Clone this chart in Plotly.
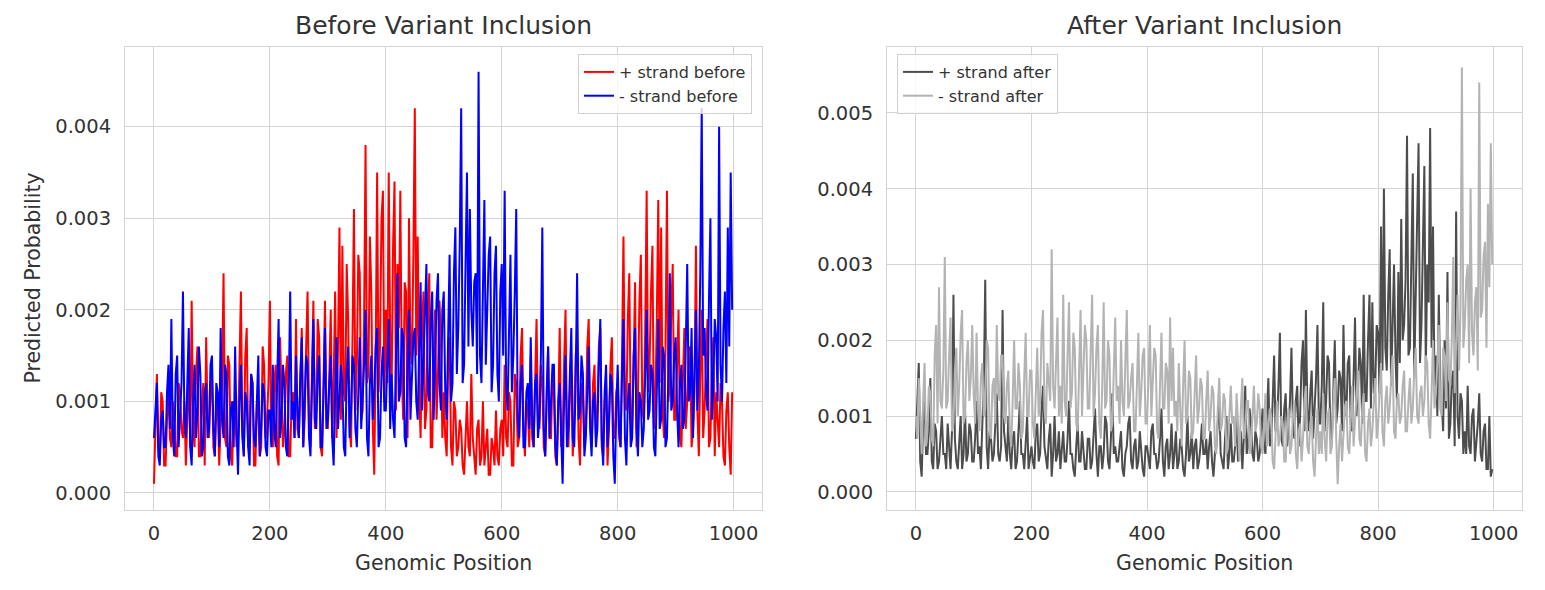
import plotly.graph_objects as go

# Genomic positions (sampled every 2.5 bp)
positions = [i * 2.5 for i in range(400)]

# Values in units of 1e-4 (predicted probability)
plus_before_e4 = [
    1, 9, 13, 5, 4, 11, 10, 3, 3, 8, 12, 6, 5, 10, 8, 4, 4, 12, 11, 7,
    6, 10, 3, 8, 14, 5, 21, 7, 5, 13, 16, 4, 4, 9, 12, 3, 17, 8, 6, 11,
    13, 5, 4, 9, 11, 3, 7, 12, 24, 6, 5, 15, 14, 4, 3, 10, 9, 5, 6, 14,
    22, 7, 4, 15, 18, 5, 6, 13, 12, 3, 3, 10, 9, 4, 5, 16, 14, 6, 8, 12,
    21, 6, 5, 12, 14, 4, 3, 17, 12, 5, 7, 13, 15, 4, 4, 10, 11, 6, 19, 7,
    6, 14, 18, 5, 8, 16, 22, 9, 5, 13, 21, 7, 9, 19, 17, 5, 4, 12, 21, 8,
    7, 13, 20, 6, 12, 22, 6, 16, 29, 8, 27, 11, 10, 25, 19, 7, 5, 17, 31, 9,
    14, 26, 24, 8, 9, 19, 38, 12, 13, 28, 22, 7, 2, 15, 35, 11, 16, 30, 33, 10,
    20, 12, 35, 17, 11, 27, 34, 9, 25, 18, 33, 13, 8, 23, 22, 6, 30, 16, 14, 26,
    42, 15, 28, 11, 6, 18, 22, 7, 9, 20, 24, 5, 5, 14, 20, 8, 13, 21, 17, 6,
    11, 6, 4, 14, 17, 5, 3, 10, 9, 4, 5, 8, 7, 3, 2, 6, 10, 5, 4, 13,
    6, 4, 2, 7, 8, 3, 4, 10, 3, 5, 7, 2, 2, 6, 5, 3, 9, 4, 3, 7,
    8, 4, 14, 6, 5, 11, 10, 3, 3, 13, 12, 5, 6, 15, 18, 7, 4, 10, 9, 5,
    15, 6, 5, 12, 19, 8, 7, 14, 12, 5, 4, 10, 16, 6, 6, 13, 11, 4, 3, 9,
    18, 5, 6, 14, 20, 7, 5, 11, 13, 4, 8, 15, 17, 6, 3, 12, 11, 5, 7, 16,
    19, 8, 5, 12, 14, 6, 9, 16, 18, 5, 4, 10, 12, 3, 7, 14, 17, 6, 6, 11,
    12, 6, 5, 15, 28, 10, 9, 19, 24, 8, 7, 14, 23, 5, 11, 21, 26, 9, 8, 18,
    33, 11, 14, 22, 27, 7, 10, 19, 32, 12, 29, 9, 6, 16, 33, 10, 12, 20, 25, 8,
    8, 14, 20, 6, 5, 12, 18, 7, 10, 15, 16, 5, 7, 11, 27, 9, 4, 13, 20, 6,
    9, 15, 19, 5, 6, 13, 17, 4, 11, 8, 5, 12, 10, 4, 3, 9, 11, 5, 2, 11,
]
minus_before_e4 = [
    6, 10, 12, 4, 3, 8, 9, 5, 5, 11, 14, 7, 19, 6, 4, 13, 15, 5, 8, 12,
    22, 8, 6, 13, 18, 5, 3, 10, 14, 6, 9, 16, 13, 4, 5, 11, 12, 6, 7, 14,
    15, 7, 4, 12, 11, 5, 18, 8, 6, 14, 13, 4, 3, 9, 10, 5, 16, 7, 2, 10,
    14, 6, 4, 11, 10, 5, 3, 13, 12, 6, 5, 10, 15, 4, 7, 12, 11, 5, 4, 9,
    9, 5, 14, 7, 5, 12, 19, 6, 8, 14, 12, 5, 4, 11, 22, 8, 10, 6, 15, 9,
    6, 13, 17, 5, 9, 15, 14, 6, 4, 12, 19, 8, 7, 13, 15, 5, 5, 11, 18, 7,
    8, 12, 15, 6, 3, 11, 17, 7, 10, 14, 12, 5, 4, 13, 16, 6, 9, 15, 14, 7,
    5, 12, 17, 7, 10, 14, 20, 6, 4, 12, 15, 8, 11, 16, 18, 5, 6, 13, 16, 9,
    9, 14, 19, 7, 13, 8, 6, 15, 24, 10, 11, 18, 17, 6, 5, 14, 20, 8, 12, 17,
    18, 10, 8, 17, 23, 9, 14, 20, 25, 11, 10, 19, 22, 8, 16, 21, 24, 12, 9, 20,
    22, 11, 8, 19, 26, 10, 12, 24, 29, 13, 18, 27, 42, 12, 14, 25, 35, 16, 31, 20,
    16, 23, 24, 13, 46, 15, 12, 22, 32, 14, 20, 26, 28, 11, 14, 24, 27, 13, 10, 22,
    25, 15, 33, 12, 9, 20, 26, 11, 15, 22, 31, 8, 6, 12, 14, 5, 5, 11, 12, 7,
    17, 8, 5, 12, 13, 6, 8, 15, 29, 7, 4, 11, 16, 6, 10, 14, 14, 5, 3, 10,
    12, 6, 1, 10, 15, 5, 7, 13, 18, 6, 5, 12, 24, 8, 9, 15, 13, 4, 6, 11,
    16, 7, 4, 10, 11, 5, 7, 14, 19, 6, 3, 11, 14, 5, 8, 13, 12, 4, 1, 9,
    14, 7, 5, 13, 19, 6, 3, 10, 12, 5, 6, 15, 18, 7, 4, 11, 10, 5, 7, 13,
    20, 8, 9, 14, 13, 5, 4, 11, 19, 7, 8, 16, 15, 5, 6, 13, 24, 9, 10, 15,
    17, 9, 5, 12, 14, 7, 8, 16, 25, 10, 11, 18, 6, 13, 20, 9, 13, 24, 42, 15,
    18, 11, 9, 21, 30, 8, 12, 19, 17, 10, 40, 14, 10, 18, 22, 12, 29, 16, 35, 20,
]
plus_after_e4 = [
    7, 11, 17, 4, 2, 9, 12, 5, 5, 8, 15, 4, 3, 9, 8, 3, 4, 7, 10, 5,
    5, 3, 9, 6, 3, 8, 26, 7, 4, 3, 7, 10, 3, 5, 11, 4, 5, 9, 8, 4,
    4, 7, 12, 5, 6, 3, 9, 14, 28, 6, 3, 8, 7, 4, 5, 10, 13, 5, 4, 6,
    24, 8, 6, 4, 10, 5, 3, 7, 8, 3, 4, 9, 12, 5, 5, 3, 7, 10, 3, 5,
    6, 4, 3, 8, 9, 4, 5, 11, 14, 6, 4, 3, 7, 9, 2, 5, 10, 4, 5, 8,
    3, 6, 8, 4, 4, 7, 12, 5, 5, 3, 2, 6, 9, 4, 4, 8, 6, 3, 3, 7,
    7, 3, 4, 8, 11, 5, 2, 6, 6, 3, 5, 10, 9, 4, 3, 7, 13, 5, 6, 4,
    4, 6, 8, 3, 2, 5, 6, 9, 10, 4, 3, 6, 7, 3, 4, 8, 5, 3, 2, 6,
    6, 4, 3, 8, 9, 5, 5, 3, 4, 7, 11, 4, 2, 6, 7, 3, 5, 9, 3, 5,
    8, 3, 4, 7, 6, 3, 2, 5, 10, 4, 5, 8, 3, 6, 7, 3, 4, 6, 9, 5,
    5, 7, 3, 6, 8, 4, 2, 5, 6, 9, 12, 5, 4, 3, 7, 10, 3, 5, 9, 4,
    4, 6, 10, 4, 5, 8, 3, 7, 14, 5, 6, 11, 9, 5, 4, 8, 7, 4, 5, 9,
    11, 6, 5, 10, 15, 6, 7, 12, 18, 8, 9, 14, 21, 7, 6, 11, 13, 6, 8, 12,
    19, 9, 7, 12, 14, 6, 10, 17, 20, 8, 24, 11, 8, 13, 16, 7, 11, 15, 22, 9,
    9, 14, 25, 8, 12, 18, 17, 7, 7, 13, 20, 9, 11, 16, 15, 8, 22, 12, 10, 17,
    18, 9, 8, 15, 23, 10, 13, 19, 17, 9, 26, 12, 12, 20, 26, 11, 25, 13, 14, 22,
    21, 13, 35, 16, 40, 19, 16, 26, 32, 14, 24, 30, 18, 12, 29, 17, 36, 20, 22, 28,
    47, 18, 19, 31, 42, 15, 28, 36, 46, 17, 22, 34, 43, 16, 30, 25, 48, 19, 35, 14,
    18, 10, 26, 13, 12, 8, 20, 11, 29, 7, 9, 15, 16, 6, 37, 10, 7, 13, 12, 5,
    8, 5, 14, 6, 5, 10, 11, 4, 6, 9, 13, 5, 4, 8, 9, 3, 3, 10, 2, 3,
]
minus_after_e4 = [
    10, 7, 15, 9, 5, 12, 17, 6, 8, 14, 13, 7, 6, 18, 22, 9, 27, 12, 11, 16,
    31, 11, 12, 18, 23, 8, 9, 16, 19, 10, 14, 21, 24, 9, 10, 17, 20, 12, 15, 22,
    13, 9, 21, 11, 8, 15, 17, 10, 11, 20, 19, 8, 7, 14, 15, 9, 22, 13, 12, 18,
    18, 10, 9, 14, 16, 8, 6, 12, 20, 11, 11, 17, 14, 7, 8, 15, 21, 10, 10, 16,
    16, 9, 7, 13, 19, 10, 12, 21, 24, 11, 9, 17, 15, 12, 32, 14, 11, 18, 23, 10,
    14, 9, 26, 12, 10, 18, 25, 11, 13, 21, 19, 9, 8, 16, 24, 10, 15, 22, 20, 11,
    11, 17, 26, 10, 13, 19, 22, 9, 7, 14, 25, 11, 12, 20, 18, 8, 9, 16, 23, 12,
    14, 9, 20, 12, 10, 17, 24, 11, 12, 15, 17, 8, 8, 14, 21, 10, 13, 18, 19, 9,
    9, 15, 22, 10, 14, 19, 18, 8, 7, 13, 21, 11, 11, 17, 16, 9, 23, 12, 19, 10,
    12, 8, 17, 11, 6, 14, 20, 9, 10, 16, 15, 7, 8, 13, 18, 9, 11, 15, 14, 7,
    7, 12, 16, 8, 10, 14, 13, 6, 5, 11, 15, 8, 9, 13, 12, 5, 6, 10, 14, 9,
    10, 6, 13, 9, 4, 11, 15, 7, 8, 12, 12, 5, 6, 10, 14, 8, 9, 13, 11, 6,
    5, 9, 13, 6, 8, 11, 10, 4, 3, 8, 12, 6, 7, 10, 9, 4, 4, 9, 11, 5,
    6, 10, 12, 5, 3, 8, 9, 4, 7, 12, 14, 6, 5, 9, 10, 4, 2, 7, 11, 5,
    8, 5, 13, 7, 4, 10, 11, 5, 6, 12, 15, 7, 1, 6, 9, 4, 7, 11, 12, 6,
    5, 10, 14, 6, 9, 13, 16, 7, 6, 11, 13, 5, 4, 9, 11, 6, 8, 12, 15, 7,
    9, 13, 17, 8, 6, 12, 14, 9, 11, 15, 18, 8, 7, 12, 13, 9, 10, 14, 16, 8,
    8, 12, 15, 9, 11, 16, 19, 10, 9, 13, 14, 10, 12, 18, 17, 9, 7, 13, 20, 11,
    13, 17, 22, 11, 10, 19, 18, 12, 25, 15, 14, 20, 31, 13, 20, 26, 16, 24, 56, 19,
    22, 28, 30, 17, 40, 21, 18, 25, 27, 16, 54, 23, 24, 31, 33, 19, 38, 27, 46, 30,
]

def to_prob(vals):
    return [v * 1e-4 for v in vals]

W, H = 1545, 590
FONT = "DejaVu Sans"
TXT = "#333333"
GRID = "#d4d4d4"
LW = 2.0

fig = go.Figure()
fig.add_trace(go.Scatter(x=positions, y=to_prob(plus_before_e4), mode="lines",
                         name="+ strand before", line=dict(color="#ff0000", width=LW),
                         xaxis="x", yaxis="y", legend="legend"))
fig.add_trace(go.Scatter(x=positions, y=to_prob(minus_before_e4), mode="lines",
                         name="- strand before", line=dict(color="#0000ff", width=LW),
                         xaxis="x", yaxis="y", legend="legend"))
fig.add_trace(go.Scatter(x=positions, y=to_prob(plus_after_e4), mode="lines",
                         name="+ strand after", line=dict(color="#4d4d4d", width=LW),
                         xaxis="x2", yaxis="y2", legend="legend2"))
fig.add_trace(go.Scatter(x=positions, y=to_prob(minus_after_e4), mode="lines",
                         name="- strand after", line=dict(color="#b3b3b3", width=LW),
                         xaxis="x2", yaxis="y2", legend="legend2"))

L1, R1 = 125 / W, 762 / W
L2, R2 = 887 / W, 1522 / W
T, B = 1 - 47 / H, 1 - 510 / H

axis_common = dict(showgrid=True, gridcolor=GRID, gridwidth=1, zeroline=False,
                   showline=True, linecolor=GRID, linewidth=1, mirror=True,
                   ticks="outside", tickcolor="rgba(0,0,0,0)",
                   tickfont=dict(family=FONT, size=19.5, color=TXT))
xticks = [0, 200, 400, 600, 800, 1000]

fig.update_layout(
    width=W, height=H,
    margin=dict(l=0, r=0, t=0, b=0),
    paper_bgcolor="white", plot_bgcolor="white",
    font=dict(family=FONT, color=TXT),
    xaxis=dict(domain=[L1, R1], anchor="y", range=[-50, 1049],
               tickvals=xticks, ticklen=6, **axis_common),
    yaxis=dict(domain=[B, T], anchor="x", range=[-0.000186, 0.00487],
               tickvals=[0, 0.001, 0.002, 0.003, 0.004], tickformat=".3f",
               ticklen=9, **axis_common),
    xaxis2=dict(domain=[L2, R2], anchor="y2", range=[-50, 1049],
                tickvals=xticks, ticklen=6, **axis_common),
    yaxis2=dict(domain=[B, T], anchor="x2", range=[-0.00024, 0.00587],
                tickvals=[0, 0.001, 0.002, 0.003, 0.004, 0.005], tickformat=".3f",
                ticklen=9, **axis_common),
    legend=dict(x=752 / W, y=1 - 54 / H, xanchor="right", yanchor="top",
                bgcolor="rgba(255,255,255,0.8)", bordercolor="#d0d0d0", borderwidth=1,
                font=dict(family=FONT, size=16, color=TXT), tracegroupgap=0),
    legend2=dict(x=897 / W, y=1 - 54 / H, xanchor="left", yanchor="top",
                 bgcolor="rgba(255,255,255,0.8)", bordercolor="#d0d0d0", borderwidth=1,
                 font=dict(family=FONT, size=16, color=TXT), tracegroupgap=0),
    showlegend=True,
)

annotations = [
    dict(text="Before Variant Inclusion", x=(L1 + R1) / 2, y=1 - 26 / H,
         font=dict(family=FONT, size=25, color=TXT)),
    dict(text="After Variant Inclusion", x=(L2 + R2) / 2, y=1 - 26 / H,
         font=dict(family=FONT, size=25, color=TXT)),
    dict(text="Genomic Position", x=(L1 + R1) / 2, y=1 - 563 / H,
         font=dict(family=FONT, size=20.5, color=TXT)),
    dict(text="Genomic Position", x=(L2 + R2) / 2, y=1 - 563 / H,
         font=dict(family=FONT, size=20.5, color=TXT)),
    dict(text="Predicted Probability", x=33 / W, y=(B + T) / 2, textangle=-90,
         font=dict(family=FONT, size=20.5, color=TXT)),
]
for a in annotations:
    a.update(xref="paper", yref="paper", showarrow=False, xanchor="center", yanchor="middle")
fig.update_layout(annotations=annotations)

fig.write_html("out.html")
